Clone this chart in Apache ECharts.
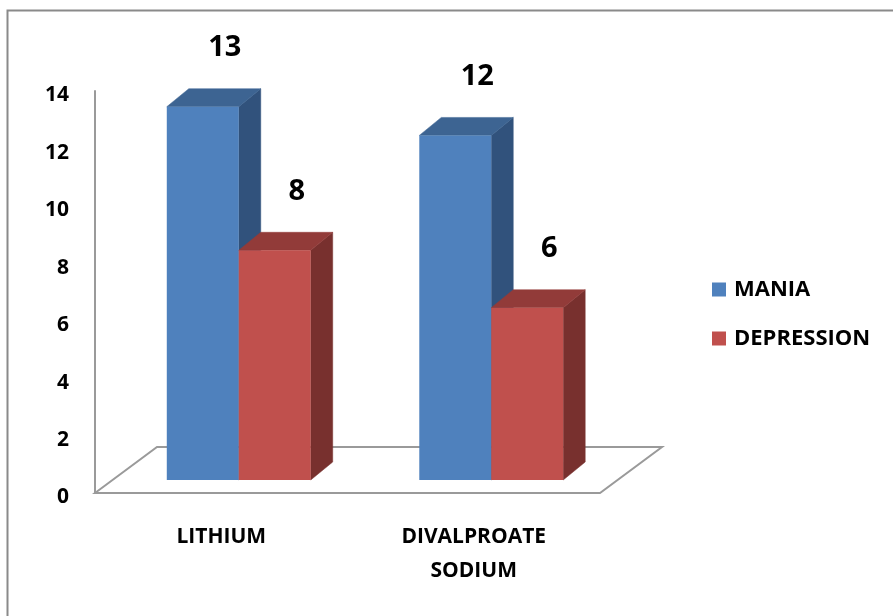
<!DOCTYPE html>
<html>
<head>
<meta charset="utf-8">
<script src="https://cdn.jsdelivr.net/npm/echarts@6/dist/echarts.min.js"></script>
<style>
  html, body { margin: 0; padding: 0; background: #ffffff; }
  #chart { width: 893px; height: 616px; }
</style>
</head>
<body>
<div id="chart"></div>
<script>
// Treatment groups and episode counts
const categories = ['LITHIUM', 'DIVALPROATE\nSODIUM'];
const seriesNames = ['MANIA', 'DEPRESSION'];
const mania = [13, 12];
const depression = [8, 6];
const yTicks = { min: 0, max: 14, interval: 2 };

// Oblique 3D look: offsets in pixels
const FLOOR_DX = 62, FLOOR_DY = -46;   // depth of the floor
const PLANE_DX = 17.5, PLANE_DY = -13; // plane the bars stand on
const BAR_DX = 22, BAR_DY = -18;       // depth of each bar
const BAR_RATIO = 0.285;               // bar width as a share of the category band
const LABEL_DX = 22, LABEL_RISE = 59;  // value label placement above bar

const FONT = "'Open Sans', 'Liberation Sans', sans-serif";

const palette = [
  { front: '#4F81BD', top: '#3D6492', side: '#31527C' },
  { front: '#C0504D', top: '#923B39', side: '#78302E' }
];

function barRenderer(idx) {
  const c = palette[idx];
  return function (params, api) {
    const cat = api.value(0);
    const val = api.value(1);
    const base = api.coord([cat, 0]);
    const top = api.coord([cat, val]);
    const band = api.size([1, 0])[0];
    const bw = band * BAR_RATIO;
    const x0 = base[0] - bw + idx * bw + PLANE_DX;
    const x1 = x0 + bw;
    const yb = base[1] + PLANE_DY;
    const yt = top[1] + PLANE_DY;
    return {
      type: 'group',
      children: [
        {
          type: 'polygon',
          shape: { points: [[x1, yt], [x1 + BAR_DX, yt + BAR_DY], [x1 + BAR_DX, yb + BAR_DY], [x1, yb]] },
          style: { fill: c.side, stroke: c.side, lineWidth: 0.5 }
        },
        {
          type: 'polygon',
          shape: { points: [[x0, yt], [x1, yt], [x1 + BAR_DX, yt + BAR_DY], [x0 + BAR_DX, yt + BAR_DY]] },
          style: { fill: c.top, stroke: c.top, lineWidth: 0.5 }
        },
        {
          type: 'rect',
          shape: { x: x0, y: yt, width: bw, height: yb - yt },
          style: { fill: c.front }
        },
        {
          type: 'text',
          style: {
            text: String(val),
            x: x0 + bw / 2 + LABEL_DX,
            y: yt - LABEL_RISE,
            align: 'center',
            verticalAlign: 'middle',
            fontSize: 29,
            fontWeight: 'bold',
            fontFamily: FONT,
            fill: '#000000'
          }
        }
      ]
    };
  };
}

function floorRenderer(params, api) {
  const c0 = api.coord([0, 0]);
  const band = api.size([1, 0])[0];
  const left = c0[0] - band / 2;
  const right = left + band * categories.length;
  const y = c0[1];
  return {
    type: 'polygon',
    shape: {
      points: [[left, y], [left + FLOOR_DX, y + FLOOR_DY], [right + FLOOR_DX, y + FLOOR_DY], [right, y]]
    },
    style: { fill: 'none', stroke: '#9A9A9A', lineWidth: 2 }
  };
}

const chart = echarts.init(document.getElementById('chart'));
chart.setOption({
  animation: false,
  backgroundColor: '#ffffff',
  graphic: [{
    type: 'rect',
    left: 5, top: 8,
    shape: { width: 1000, height: 1000 },
    style: { fill: 'none', stroke: '#8A8A8A', lineWidth: 2 },
    z: -10
  }],
  grid: { left: 95, top: 91, width: 505, height: 402 },
  legend: {
    data: seriesNames,
    orient: 'vertical',
    left: 712,
    top: 277,
    icon: 'rect',
    itemWidth: 14,
    itemHeight: 14,
    itemGap: 24,
    padding: 0,
    textStyle: {
      fontSize: 22, fontWeight: 'bold', fontFamily: FONT, color: '#000000',
      lineHeight: 25, padding: [0, 0, 0, 3]
    }
  },
  xAxis: {
    type: 'category',
    data: categories,
    axisLine: { show: false },
    axisTick: { show: false },
    axisLabel: {
      margin: 27,
      fontSize: 21, fontWeight: 'bold', fontFamily: FONT, color: '#000000',
      lineHeight: 34
    }
  },
  yAxis: {
    type: 'value',
    min: yTicks.min, max: yTicks.max, interval: yTicks.interval,
    splitLine: { show: false },
    axisTick: { show: false },
    axisLine: { show: true, lineStyle: { color: '#9A9A9A', width: 2 } },
    axisLabel: {
      margin: 26,
      formatter: '{v|{value}}',
      rich: {
        v: {
          padding: [9, 0, 0, 0],
          fontSize: 21, fontWeight: 'bold', fontFamily: FONT, color: '#000000'
        }
      }
    }
  },
  series: [
    {
      type: 'custom', name: 'floor', silent: true, z: 1,
      renderItem: floorRenderer,
      data: [[0, 0]]
    },
    {
      type: 'custom', name: seriesNames[0], z: 2,
      itemStyle: { color: palette[0].front },
      renderItem: barRenderer(0),
      encode: { x: 0, y: 1 },
      data: mania.map((v, i) => [i, v])
    },
    {
      type: 'custom', name: seriesNames[1], z: 3,
      itemStyle: { color: palette[1].front },
      renderItem: barRenderer(1),
      encode: { x: 0, y: 1 },
      data: depression.map((v, i) => [i, v])
    }
  ]
});
</script>
</body>
</html>
